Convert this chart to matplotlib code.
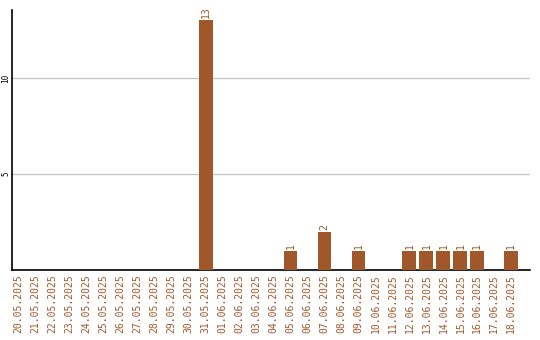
import matplotlib
matplotlib.use("Agg")
import matplotlib.pyplot as plt

# daily counts 20.05.2025 - 18.06.2025
dates = ["20.05.2025", "21.05.2025", "22.05.2025", "23.05.2025", "24.05.2025",
         "25.05.2025", "26.05.2025", "27.05.2025", "28.05.2025", "29.05.2025",
         "30.05.2025", "31.05.2025", "01.06.2025", "02.06.2025", "03.06.2025",
         "04.06.2025", "05.06.2025", "06.06.2025", "07.06.2025", "08.06.2025",
         "09.06.2025", "10.06.2025", "11.06.2025", "12.06.2025", "13.06.2025",
         "14.06.2025", "15.06.2025", "16.06.2025", "17.06.2025", "18.06.2025"]
counts = [0, 0, 0, 0, 0, 0, 0, 0, 0, 0, 0, 13, 0, 0, 0,
          0, 1, 0, 2, 0, 1, 0, 0, 1, 1, 1, 1, 1, 0, 1]
yticks = [5, 10]

bar_color = "#a0572a"

fig = plt.figure(figsize=(5.4, 3.4), dpi=100)
ax = fig.add_axes([12 / 540, 70 / 340, 518 / 540, 260 / 340])

x = list(range(len(dates)))
bars = ax.bar(x, counts, width=0.82, color=bar_color, zorder=3)

for xi, v in zip(x, counts):
    if v > 0:
        ax.text(xi, v + 0.1, str(v), rotation=90, ha="center", va="bottom",
                fontsize=7, color=bar_color, family="DejaVu Sans Mono")

ax.set_xlim(-0.4, 30.1)
ax.set_ylim(0, 13.54)
ax.set_xticks(x)
ax.set_xticklabels(dates, rotation=90, fontsize=7, color=bar_color,
                   family="DejaVu Sans Mono")
ax.set_yticks(yticks)
ax.set_yticklabels([str(t) for t in yticks], rotation=90, fontsize=5.5,
                   va="center", family="DejaVu Sans Mono")
ax.tick_params(axis="x", length=0, pad=3)
ax.tick_params(axis="y", length=0, pad=1)
ax.yaxis.grid(True, color="#c8c8c8", linewidth=1, zorder=0)

ax.spines["top"].set_visible(False)
ax.spines["right"].set_visible(False)
ax.spines["left"].set_linewidth(1.2)
ax.spines["bottom"].set_linewidth(1.2)

fig.savefig("out.png", dpi=100)
